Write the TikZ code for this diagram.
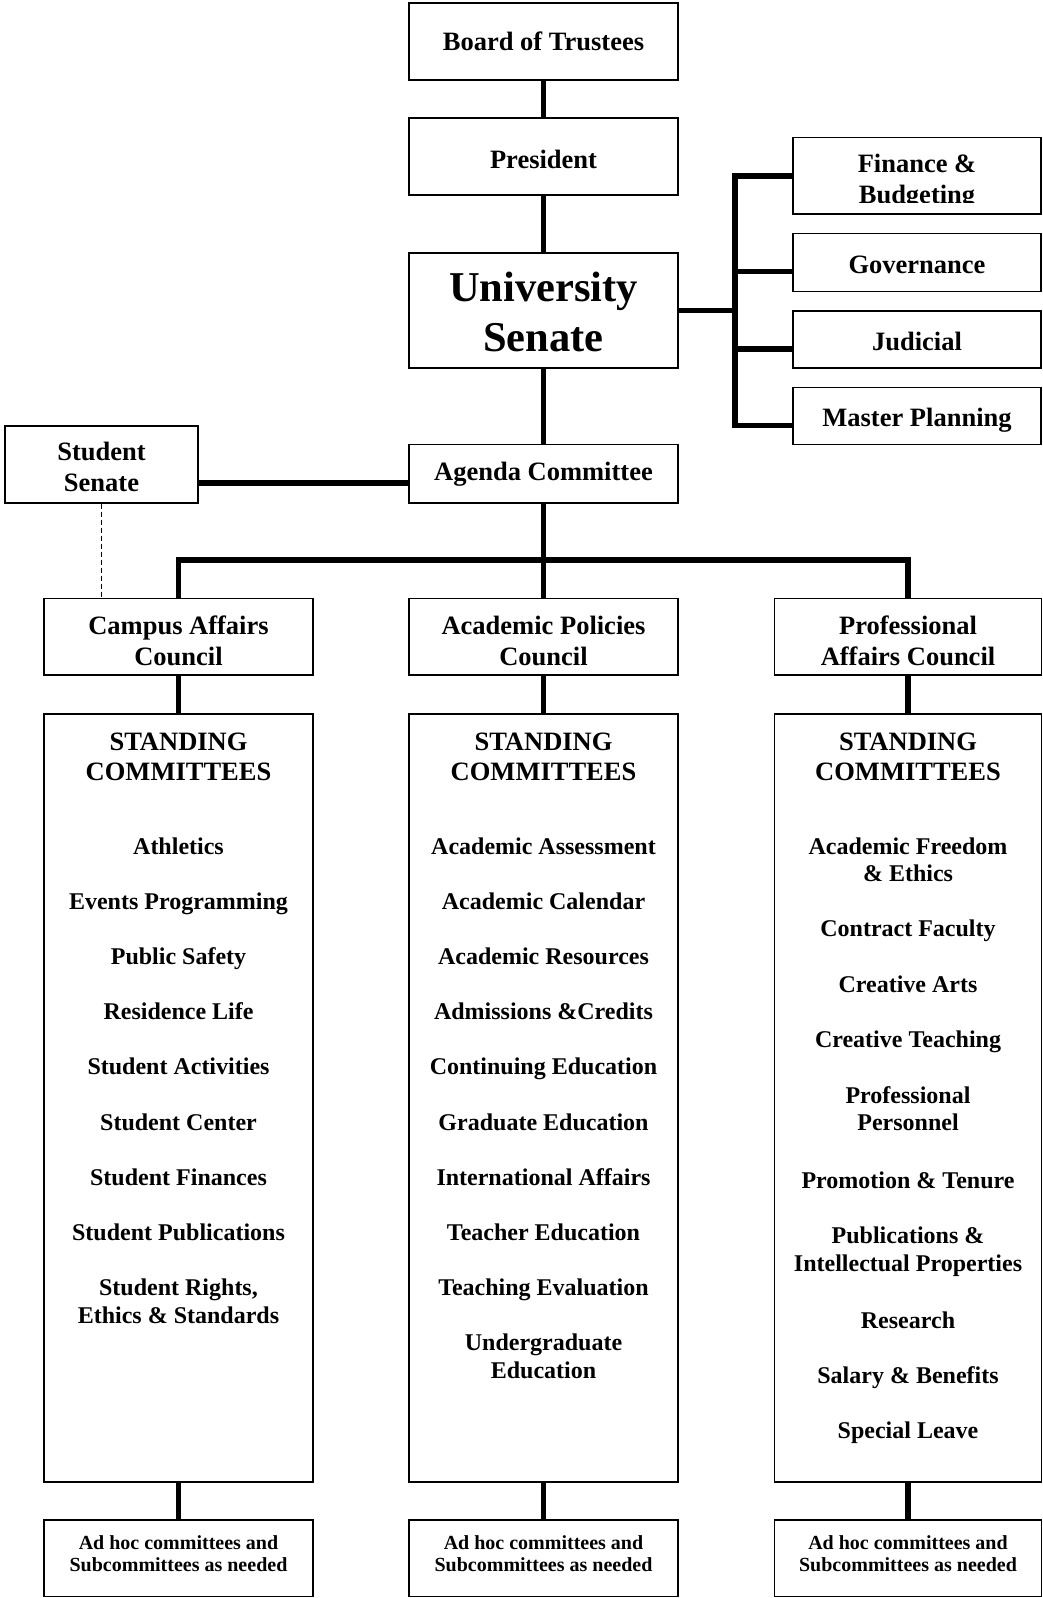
\documentclass[tikz,border=0pt]{standalone}
\usepackage{fontspec}
\setmainfont{Liberation Serif}
\usetikzlibrary{calc}
\tikzset{
  box/.style={draw=black, line width=1.7pt, inner sep=0pt, rectangle},
  conn/.style={line width=5.5pt, line join=miter},
  dashconn/.style={line width=0.8pt, dash pattern=on 5pt off 3pt},
  tbig/.style={anchor=base, inner sep=0pt, font=\fontsize{42.5}{48}\selectfont\bfseries},
  thead/.style={anchor=base, inner sep=0pt, font=\fontsize{26.5}{30}\selectfont\bfseries},
  titem/.style={anchor=base, inner sep=0pt, font=\fontsize{24}{27.6}\selectfont\bfseries},
  tsmall/.style={anchor=base, inner sep=0pt, font=\fontsize{20}{23}\selectfont\bfseries},
}
\newcommand\stditem[4]{\node[titem] (#1) at (#2,{854+27.6*#3}) {#4};}
\begin{document}
\begin{tikzpicture}[x=1pt,y=-1pt]
\useasboundingbox (0,0) rectangle (1043,1598);

% ---- boxes ----
\node[box, minimum width=269pt, minimum height=77pt] (board) at (543.5,41.5) {};
\node[box, minimum width=269pt, minimum height=76.7pt] (pres) at (543.5,156.6) {};
\node[box, minimum width=269pt, minimum height=115pt] (sen) at (543.5,310.5) {};
\node[box, minimum width=248pt, minimum height=76.5pt] (fin) at (917,175.75) {};
\node[box, minimum width=248pt, minimum height=58pt] (gov) at (917,262.5) {};
\node[box, minimum width=248pt, minimum height=57pt] (jud) at (917,339.5) {};
\node[box, minimum width=248pt, minimum height=57pt] (mas) at (917,416) {};
\node[box, minimum width=193pt, minimum height=76.7pt] (ss) at (101.5,464.3) {};
\node[box, minimum width=269pt, minimum height=58.2pt] (ag) at (543.5,473.6) {};
\node[box, minimum width=269pt, minimum height=76.6pt] (cac) at (178.5,636.7) {};
\node[box, minimum width=269pt, minimum height=76.6pt] (apc) at (543.5,636.7) {};
\node[box, minimum width=267pt, minimum height=76.6pt] (pac) at (908,636.7) {};
\node[box, minimum width=269pt, minimum height=768.3pt] (scL) at (178.5,1097.85) {};
\node[box, minimum width=269pt, minimum height=768.3pt] (scM) at (543.5,1097.85) {};
\node[box, minimum width=267pt, minimum height=768.3pt] (scR) at (908,1097.85) {};
\node[box, minimum width=269pt, minimum height=76.3pt] (ahL) at (178.5,1558.35) {};
\node[box, minimum width=269pt, minimum height=76.3pt] (ahM) at (543.5,1558.35) {};
\node[box, minimum width=267pt, minimum height=76.3pt] (ahR) at (908,1558.35) {};

% ---- connectors ----
\draw[conn] (board.south) -- (pres.north);
\draw[conn] (pres.south) -- (sen.north);
\draw[conn] (sen.south) -- (ag.north);
\coordinate (bsen) at (735,310.5);
\coordinate (bf) at (735,175.75);
\coordinate (bg) at (735,271.7);
\coordinate (bj) at (735,349);
\coordinate (bm) at (735,425.5);
\draw[conn] (sen.east) -- (bsen);
\draw[conn] (fin.west) -- (bf) -- (bm) -- (bm -| mas.west);
\draw[conn] (bg) -- (bg -| gov.west);
\draw[conn] (bj) -- (bj -| jud.west);
\coordinate (ssag) at (0,483);
\draw[conn] (ss.east |- ssag) -- (ag.west |- ssag);
\coordinate (bus) at (0,560);
\draw[conn] (cac.north) -- (cac.north |- bus) -- (pac.north |- bus) -- (pac.north);
\draw[conn] (ag.south) -- (apc.north);
\draw[dashconn] (ss.south) -- (ss.south |- cac.north);
\draw[conn] (cac.south) -- (scL.north);
\draw[conn] (apc.south) -- (scM.north);
\draw[conn] (pac.south) -- (scR.north);
\draw[conn] (scL.south) -- (ahL.north);
\draw[conn] (scM.south) -- (ahM.north);
\draw[conn] (scR.south) -- (ahR.north);

% ---- texts ----
\node[thead] (tboard) at (543.5,50) {Board of Trustees};
\node[thead] (tpres) at (543.5,168.3) {President};
\node[tbig] (tsen1) at (543.5,301.7) {University};
\node[tbig] (tsen2) at (543.5,351.7) {Senate};
\node[thead] (tfin1) at (917,172.8) {Finance \&};
\coordinate (clipc) at (0,202.8);
\begin{scope}
  \clip (fin.north west) rectangle (fin.east |- clipc);
  \node[thead] (tfin2) at (917,203.8) {Budgeting};
\end{scope}
\node[thead] (tgov) at (917,273.3) {Governance};
\node[thead] (tjud) at (917,350) {Judicial};
\node[thead] (tmas) at (917,426.7) {Master Planning};
\node[thead] (tss1) at (101.5,460.7) {Student};
\node[thead] (tss2) at (101.5,491.7) {Senate};
\node[thead] (tag) at (543.5,480.7) {Agenda Committee};
\node[thead] (tcac1) at (178.5,634) {Campus Affairs};
\node[thead] (tcac2) at (178.5,665.3) {Council};
\node[thead] (tapc1) at (543.5,634) {Academic Policies};
\node[thead] (tapc2) at (543.5,665.3) {Council};
\node[thead] (tpac1) at (908,634) {Professional};
\node[thead] (tpac2) at (908,665.3) {Affairs Council};

\node[thead] (hL1) at (178.5,750) {STANDING};
\node[thead] (hL2) at (178.5,780.5) {COMMITTEES};
\node[thead] (hM1) at (543.5,750) {STANDING};
\node[thead] (hM2) at (543.5,780.5) {COMMITTEES};
\node[thead] (hR1) at (908,750) {STANDING};
\node[thead] (hR2) at (908,780.5) {COMMITTEES};

% left column
\stditem{l1}{178.5}{0}{Athletics}
\stditem{l2}{178.5}{2}{Events Programming}
\stditem{l3}{178.5}{4}{Public Safety}
\stditem{l4}{178.5}{6}{Residence Life}
\stditem{l5}{178.5}{8}{Student Activities}
\stditem{l6}{178.5}{10}{Student Center}
\stditem{l7}{178.5}{12}{Student Finances}
\stditem{l8}{178.5}{14}{Student Publications}
\stditem{l9}{178.5}{16}{Student Rights,}
\stditem{l10}{178.5}{17}{Ethics \& Standards}
% middle column
\stditem{m1}{543.5}{0}{Academic Assessment}
\stditem{m2}{543.5}{2}{Academic Calendar}
\stditem{m3}{543.5}{4}{Academic Resources}
\stditem{m4}{543.5}{6}{Admissions \&Credits}
\stditem{m5}{543.5}{8}{Continuing Education}
\stditem{m6}{543.5}{10}{Graduate Education}
\stditem{m7}{543.5}{12}{International Affairs}
\stditem{m8}{543.5}{14}{Teacher Education}
\stditem{m9}{543.5}{16}{Teaching Evaluation}
\stditem{m10}{543.5}{18}{Undergraduate}
\stditem{m11}{543.5}{19}{Education}
% right column
\stditem{r1}{908}{0}{Academic Freedom}
\stditem{r2}{908}{1}{\& Ethics}
\stditem{r3}{908}{3}{Contract Faculty}
\stditem{r4}{908}{5}{Creative Arts}
\stditem{r5}{908}{7}{Creative Teaching}
\stditem{r6}{908}{9.03}{Professional}
\stditem{r7}{908}{10}{Personnel}
\stditem{r8}{908}{12.11}{Promotion \& Tenure}
\stditem{r9}{908}{14.11}{Publications \&}
\stditem{r10}{908}{15.11}{Intellectual Properties}
\stditem{r11}{908}{17.18}{Research}
\stditem{r12}{908}{19.18}{Salary \& Benefits}
\stditem{r13}{908}{21.18}{Special Leave}

% ad hoc
\node[tsmall] (ahL1) at (178.5,1549.3) {Ad hoc committees and};
\node[tsmall] (ahL2) at (178.5,1571.7) {Subcommittees as needed};
\node[tsmall] (ahM1) at (543.5,1549.3) {Ad hoc committees and};
\node[tsmall] (ahM2) at (543.5,1571.7) {Subcommittees as needed};
\node[tsmall] (ahR1) at (908,1549.3) {Ad hoc committees and};
\node[tsmall] (ahR2) at (908,1571.7) {Subcommittees as needed};
\end{tikzpicture}
\end{document}
